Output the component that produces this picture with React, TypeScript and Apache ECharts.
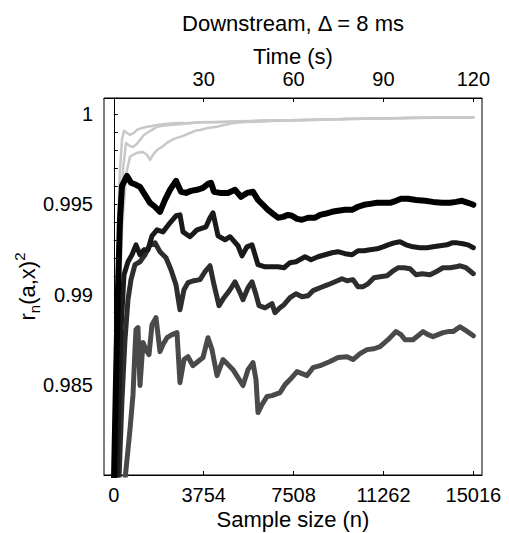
import React, { useEffect, useRef } from 'react';
import * as echarts from 'echarts';

// ---- axis settings / ticks ----
const X_MIN = -409;
const X_MAX = 15376;
const Y_MIN = 0.98;
const Y_MAX = 1.0009;
const SAMPLES_PER_SECOND = 125.133;
const sampleTicks = [0, 3754, 7508, 11262, 15016];
const timeTicks = [30, 60, 90, 120];
const yLabelTicks = [0.985, 0.99, 0.995, 1];
const yMinorTicks = [
  0.981, 0.982, 0.983, 0.984, 0.985, 0.986, 0.987, 0.988, 0.989, 0.99,
  0.991, 0.992, 0.993, 0.994, 0.995, 0.996, 0.997, 0.998, 0.999, 1.0,
];

// ---- series: [sample size n, r_n(a,x)^2] ----
const gray1 = [
  [50, 0.97975], [92, 0.98806], [175, 0.99415], [259, 0.99692], [342, 0.99858], [426, 0.99908],
  [551, 0.99896], [677, 0.99885], [844, 0.99896], [969, 0.99913], [1178, 0.99924], [1387, 0.99931],
  [1595, 0.99935], [1804, 0.99941], [2138, 0.99946], [2472, 0.9995], [2848, 0.99952], [3182, 0.9995],
  [3600, 0.99955], [4226, 0.99957], [4853, 0.9996], [5688, 0.99963], [6523, 0.99966], [7359, 0.99966],
  [8612, 0.99971], [9865, 0.99974], [11118, 0.99977], [12370, 0.9998], [13623, 0.99982], [15016, 0.99983],
];
const gray2 = [
  [92, 0.97975], [175, 0.98806], [259, 0.99359], [384, 0.99692], [509, 0.99841], [677, 0.99824],
  [802, 0.99819], [969, 0.99836], [1094, 0.99858], [1261, 0.99885], [1387, 0.99896], [1595, 0.99913],
  [1804, 0.9993], [2138, 0.99938], [2472, 0.99941], [2848, 0.99946], [3182, 0.99952], [3600, 0.99955],
  [4226, 0.99955], [4853, 0.99957], [5688, 0.99961], [6523, 0.99964], [7359, 0.99967], [8612, 0.9997],
  [9865, 0.99975], [11118, 0.99976], [12370, 0.99979], [13623, 0.99981], [15016, 0.99982],
];
const gray3 = [
  [134, 0.97975], [217, 0.98806], [342, 0.99359], [509, 0.99664], [677, 0.99764], [802, 0.99775],
  [969, 0.99786], [1219, 0.99791], [1387, 0.99775], [1512, 0.99747], [1637, 0.99775], [1804, 0.99802],
  [2013, 0.99819], [2222, 0.99841], [2430, 0.99858], [2639, 0.99869], [2890, 0.9988], [3182, 0.99896],
  [3391, 0.99908], [3600, 0.99913], [3934, 0.99924], [4310, 0.99931], [4644, 0.99941], [4936, 0.9995],
  [5479, 0.99957], [5980, 0.99959], [6523, 0.99963], [7359, 0.99965], [8612, 0.9997], [9865, 0.99973],
  [11118, 0.99977], [12370, 0.99979], [13623, 0.99982], [15016, 0.99983],
];
const blackLine = [
  [8, 0.97975], [92, 0.98529], [175, 0.99027], [259, 0.99415], [342, 0.99603], [551, 0.99658],
  [718, 0.9962], [927, 0.99609], [1094, 0.99597], [1303, 0.99553], [1512, 0.99509], [1720, 0.99487],
  [1929, 0.99459], [2138, 0.99525], [2347, 0.99581], [2597, 0.99631], [2806, 0.9957], [3015, 0.99564],
  [3224, 0.99575], [3474, 0.99581], [3725, 0.99592], [3934, 0.99614], [4059, 0.9962], [4184, 0.9957],
  [4435, 0.99564], [4769, 0.99564], [5061, 0.99581], [5312, 0.99542], [5562, 0.99564], [5813, 0.9957],
  [6022, 0.99525], [6231, 0.99498], [6440, 0.9947], [6649, 0.99448], [6858, 0.99426], [7067, 0.99431],
  [7275, 0.99442], [7442, 0.99437], [7651, 0.9942], [7860, 0.99415], [8111, 0.99426], [8403, 0.99426],
  [8612, 0.99442], [8821, 0.99448], [9113, 0.99459], [9364, 0.99465], [9656, 0.9947], [9949, 0.9947],
  [10199, 0.99487], [10450, 0.99498], [10700, 0.99503], [10993, 0.99509], [11285, 0.99509], [11536, 0.99509],
  [11787, 0.9952], [11993, 0.99531], [12289, 0.99531], [12623, 0.99525], [12999, 0.9952], [13333, 0.99514],
  [13709, 0.99509], [14043, 0.99509], [14293, 0.99514], [14544, 0.9952], [14794, 0.99509], [15016, 0.99498],
];
const darkLine = [
  [134, 0.97975], [217, 0.98418], [301, 0.98806], [426, 0.9911], [593, 0.99182], [760, 0.99221],
  [927, 0.99276], [1094, 0.99221], [1261, 0.99249], [1428, 0.99249], [1595, 0.99326], [1804, 0.99359],
  [2055, 0.99348], [2347, 0.99398], [2597, 0.99437], [2764, 0.99442], [2890, 0.99348], [3182, 0.99321],
  [3474, 0.99359], [3850, 0.99376], [4017, 0.99426], [4143, 0.99453], [4352, 0.99326], [4644, 0.99304],
  [4853, 0.99321], [5187, 0.99271], [5354, 0.99215], [5562, 0.99265], [5771, 0.99276], [6022, 0.99166],
  [6315, 0.99154], [6607, 0.99154], [6858, 0.99154], [7108, 0.99149], [7359, 0.99177], [7609, 0.99182],
  [7985, 0.9921], [8236, 0.99193], [8528, 0.9921], [8821, 0.99221], [9113, 0.99232], [9364, 0.99238],
  [9656, 0.99227], [9949, 0.99221], [10199, 0.99243], [10450, 0.99243], [10700, 0.99249], [10993, 0.99254],
  [11243, 0.99265], [11452, 0.99276], [11703, 0.99287], [11952, 0.99293], [12203, 0.99276], [12495, 0.99265],
  [12787, 0.9926], [13080, 0.9926], [13330, 0.99265], [13623, 0.99271], [13915, 0.99276], [14124, 0.99287],
  [14333, 0.99287], [14583, 0.99282], [14792, 0.99276], [15016, 0.9926],
];
const midLine = [
  [217, 0.97975], [342, 0.98418], [468, 0.9875], [593, 0.98972], [718, 0.99083], [885, 0.99166],
  [1094, 0.99182], [1303, 0.99221], [1512, 0.99276], [1720, 0.99287], [1929, 0.99238], [2180, 0.99204],
  [2389, 0.99138], [2597, 0.99055], [2764, 0.98916], [2931, 0.99027], [3098, 0.99066], [3349, 0.99077],
  [3600, 0.99083], [3808, 0.99127], [4017, 0.9916], [4184, 0.99055], [4393, 0.98939], [4602, 0.98983],
  [4853, 0.99027], [5061, 0.99071], [5270, 0.99011], [5395, 0.98972], [5604, 0.99038], [5771, 0.99071],
  [5938, 0.99], [6064, 0.98939], [6315, 0.98927], [6607, 0.9895], [6732, 0.989], [6941, 0.98927],
  [7108, 0.98944], [7359, 0.98983], [7609, 0.99005], [7860, 0.98988], [8111, 0.98994], [8319, 0.99022],
  [8612, 0.99038], [8946, 0.99055], [9238, 0.99071], [9530, 0.99088], [9739, 0.99077], [9990, 0.99083],
  [10199, 0.99044], [10408, 0.99044], [10616, 0.9906], [10867, 0.99094], [11118, 0.99099], [11410, 0.99105],
  [11619, 0.99127], [11870, 0.99149], [12120, 0.99149], [12371, 0.99143], [12621, 0.9911], [12872, 0.99116],
  [13206, 0.9911], [13456, 0.99127], [13749, 0.99149], [14041, 0.99149], [14291, 0.99154], [14458, 0.9916],
  [14709, 0.99149], [15016, 0.99116],
];
const lowLine = [
  [468, 0.97975], [677, 0.98252], [802, 0.98445], [885, 0.98695], [927, 0.98806], [1010, 0.98817],
  [1094, 0.98496], [1219, 0.98734], [1345, 0.98695], [1470, 0.98667], [1595, 0.98833], [1762, 0.98872],
  [1929, 0.98684], [2055, 0.98723], [2222, 0.98761], [2430, 0.98778], [2639, 0.98789], [2764, 0.98512],
  [2931, 0.9864], [3098, 0.98656], [3307, 0.98606], [3516, 0.98629], [3725, 0.98651], [3934, 0.98761],
  [4101, 0.98695], [4310, 0.98551], [4560, 0.9864], [4769, 0.98612], [4978, 0.98584], [5187, 0.9854],
  [5395, 0.98496], [5604, 0.98584], [5813, 0.98623], [5938, 0.98529], [6022, 0.98346], [6189, 0.9839],
  [6398, 0.98435], [6607, 0.9844], [6941, 0.98457], [7150, 0.98501], [7359, 0.98529], [7651, 0.98573],
  [7860, 0.98562], [8068, 0.98551], [8319, 0.98595], [8612, 0.98606], [9029, 0.98629], [9364, 0.98651],
  [9739, 0.98656], [9990, 0.9864], [10283, 0.98673], [10575, 0.98695], [10867, 0.987], [11118, 0.98712],
  [11452, 0.9875], [11786, 0.98795], [11993, 0.98778], [12160, 0.9875], [12495, 0.9875], [12704, 0.98772],
  [12913, 0.98795], [13121, 0.98778], [13330, 0.98767], [13539, 0.98778], [13749, 0.98789], [13957, 0.98795],
  [14166, 0.98795], [14458, 0.98822], [14709, 0.988], [15016, 0.98772],
];

const FONT = "'Liberation Sans', Arial, Helvetica, sans-serif";

export default function App() {
  const ref = useRef<HTMLDivElement>(null);
  useEffect(() => {
    if (!ref.current) return;
    const chart = echarts.init(ref.current, null, { renderer: 'svg' });
    const lineSeries = (name: string, data: number[][], color: string, width: number) => ({
      name,
      type: 'line',
      data,
      xAxisIndex: 0,
      yAxisIndex: 0,
      showSymbol: false,
      symbol: 'none',
      clip: true,
      lineStyle: { color, width, join: 'round', cap: 'round' },
      emphasis: { disabled: true },
    });
    chart.setOption({
      animation: false,
      textStyle: { fontFamily: FONT },
      grid: {
        left: 104, right: 27, top: 98, bottom: 58,
        containLabel: false, outerBoundsMode: 'none',
        show: true, borderColor: '#000', borderWidth: 1, backgroundColor: '#fff',
      },
      graphic: [
        {
          type: 'text', x: 293, y: 23,
          style: {
            text: 'Downstream, Δ = 8 ms', fontSize: 22, fontFamily: FONT, fill: '#000',
            textAlign: 'center', textVerticalAlign: 'middle',
          },
        },
      ],
      xAxis: [
        {
          type: 'value', position: 'bottom', min: X_MIN, max: X_MAX,
          name: 'Sample size (n)', nameLocation: 'middle', nameGap: 33, nameMoveOverlap: false,
          nameTextStyle: { fontSize: 22, color: '#000', fontFamily: FONT },
          axisLine: { show: true, lineStyle: { color: '#000', width: 1 } },
          axisTick: { show: true, inside: true, length: 4, customValues: sampleTicks, lineStyle: { color: '#000' } },
          axisLabel: {
            show: true, customValues: sampleTicks, fontSize: 20, color: '#000', margin: 10, fontFamily: FONT,
            formatter: (v: number) => String(Math.round(v)),
          },
          splitLine: { show: false },
        },
        {
          type: 'value', position: 'top', min: X_MIN / SAMPLES_PER_SECOND, max: X_MAX / SAMPLES_PER_SECOND,
          name: 'Time (s)', nameLocation: 'middle', nameGap: 31, nameMoveOverlap: false,
          nameTextStyle: { fontSize: 22, color: '#000', fontFamily: FONT },
          axisLine: { show: true, lineStyle: { color: '#000', width: 1 } },
          axisTick: { show: true, inside: true, length: 4, customValues: timeTicks, lineStyle: { color: '#000' } },
          axisLabel: {
            show: true, customValues: timeTicks, fontSize: 20, color: '#000', margin: 9, fontFamily: FONT,
            formatter: (v: number) => String(Math.round(v)),
          },
          splitLine: { show: false },
        },
      ],
      yAxis: [
        {
          type: 'value', min: Y_MIN, max: Y_MAX,
          name: '{i|r}{s|n}{i|(a,x)}{p|2}', nameLocation: 'middle', nameGap: 62, nameRotate: 90,
          nameMoveOverlap: false,
          nameTextStyle: {
            color: '#000', fontFamily: FONT,
            rich: {
              i: { fontSize: 22, fontFamily: FONT, color: '#000', lineHeight: 30, verticalAlign: 'middle' },
              s: { fontSize: 15, fontFamily: FONT, color: '#000', lineHeight: 30, verticalAlign: 'bottom' },
              p: { fontSize: 15, fontFamily: FONT, color: '#000', lineHeight: 30, verticalAlign: 'top' },
            },
          },
          axisLine: { show: true, lineStyle: { color: '#000', width: 1 } },
          axisTick: { show: true, inside: true, length: 4, customValues: yMinorTicks, lineStyle: { color: '#000' } },
          axisLabel: {
            show: true, customValues: yLabelTicks, fontSize: 20, color: '#000', margin: 11, fontFamily: FONT,
            formatter: (v: number) => String(Number(v.toFixed(3))),
          },
          splitLine: { show: false },
        },
      ],
      series: [
        lineSeries('g1', gray1, '#c8c8c8', 2.5),
        lineSeries('g2', gray2, '#c8c8c8', 2.5),
        lineSeries('g3', gray3, '#c8c8c8', 2.5),
        lineSeries('low', lowLine, '#4a4a4a', 5),
        lineSeries('mid', midLine, '#2e2e2e', 5),
        lineSeries('dark', darkLine, '#1a1a1a', 5),
        lineSeries('black', blackLine, '#000000', 6),
      ],
    });
    return () => chart.dispose();
  }, []);
  return (
    <div
      ref={ref}
      style={{ position: 'fixed', left: 0, top: 0, width: 509, height: 533, background: '#fff' }}
    />
  );
}
